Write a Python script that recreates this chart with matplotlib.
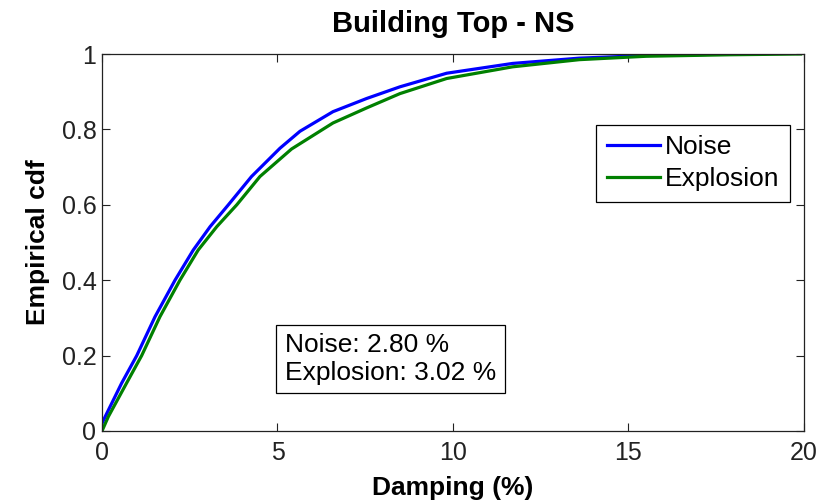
import matplotlib
matplotlib.use("Agg")
import matplotlib.pyplot as plt

# Empirical cdf of damping values
noise_x = [0, 0.09, 0.56, 0.99, 1.51, 2.08, 2.60, 3.08, 3.60, 4.26, 5.07,
           5.64, 6.58, 7.54, 8.49, 9.82, 11.7, 13.6, 15.5, 17.9]
noise_y = [0.02, 0.038, 0.127, 0.20, 0.303, 0.40, 0.48, 0.542, 0.60, 0.675,
           0.75, 0.795, 0.847, 0.882, 0.913, 0.949, 0.975, 0.989, 0.996, 1.0]

expl_x = [0, 0.18, 0.70, 1.13, 1.65, 2.22, 2.74, 3.27, 3.84, 4.50, 5.40,
          6.58, 7.54, 8.49, 9.82, 11.7, 13.6, 15.5, 17.9, 19.9]
expl_y = [0.0, 0.038, 0.127, 0.20, 0.303, 0.40, 0.48, 0.542, 0.60, 0.675,
          0.748, 0.817, 0.857, 0.895, 0.935, 0.966, 0.985, 0.994, 0.998, 1.0]

mean_noise = 2.80
mean_expl = 3.02

x_ticks = [0, 5, 10, 15, 20]
y_ticks = [0, 0.2, 0.4, 0.6, 0.8, 1.0]
y_ticklabels = ["0", "0.2", "0.4", "0.6", "0.8", "1"]

plt.rcParams["font.family"] = ["Liberation Sans", "DejaVu Sans"]

fig = plt.figure(figsize=(8.29, 5.03), dpi=100)
ax = fig.add_axes([102 / 829, 1 - 431 / 503, 702 / 829, 377 / 503])

ax.plot(noise_x, noise_y, color=(0, 0, 1), lw=2.3, label="Noise")
ax.plot(expl_x, expl_y, color=(0, 0.5, 0), lw=2.3, label="Explosion")

ax.set_xlim(0, 20)
ax.set_ylim(0, 1)
ax.set_xticks(x_ticks)
ax.set_xticklabels([str(t) for t in x_ticks])
ax.set_yticks(y_ticks)
ax.set_yticklabels(y_ticklabels)
ax.tick_params(direction="in", length=6, width=0.8, labelsize=18,
               top=True, right=True, colors="#222222")
ax.tick_params(axis="x", pad=7)
ax.tick_params(axis="y", pad=4)
for s in ax.spines.values():
    s.set_linewidth(0.9)
    s.set_color("#222222")

ax.set_title("Building Top - NS", fontsize=21, fontweight="bold", pad=16)
ax.set_xlabel("Damping (%)", fontsize=19, fontweight="bold", labelpad=8)
ax.set_ylabel("Empirical cdf", fontsize=19, fontweight="bold", labelpad=8)

leg = ax.legend(loc="upper right", bbox_to_anchor=(0.980, 0.812), fontsize=19,
                fancybox=False, framealpha=1, edgecolor="black",
                handlelength=2.0, handletextpad=0.2, borderpad=0.4,
                labelspacing=0.3, borderaxespad=0)
leg.get_frame().set_linewidth(0.9)

ax.text(5.21, 0.191,
        "Noise: %.2f %%\nExplosion: %.2f %%" % (mean_noise, mean_expl),
        fontsize=19, va="center", ha="left", linespacing=1.2,
        bbox=dict(boxstyle="square,pad=0.32", facecolor="white",
                  edgecolor="black", linewidth=0.9))

fig.savefig("out.png", dpi=100)
